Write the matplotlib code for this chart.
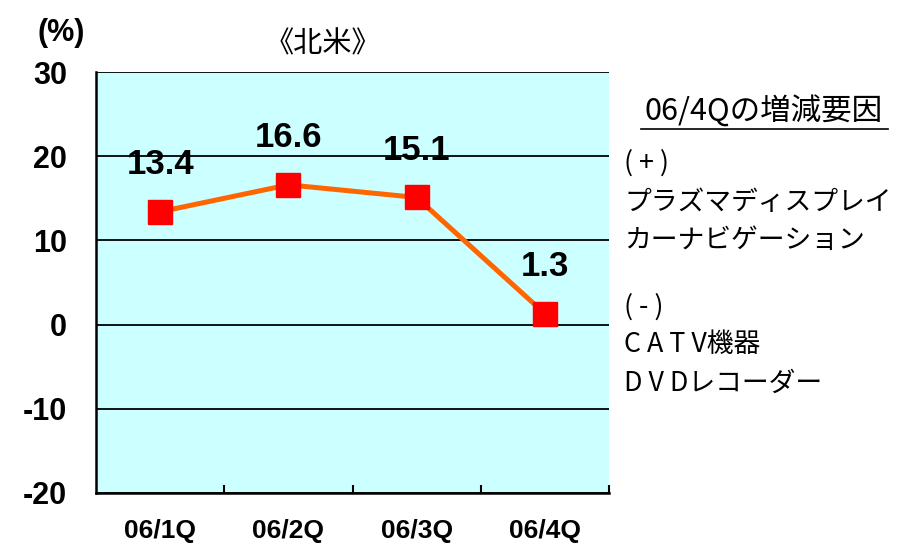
import matplotlib.pyplot as plt
from matplotlib.lines import Line2D

plt.rcParams['font.family'] = ['Liberation Sans', 'Noto Sans CJK JP', 'DejaVu Sans']

# Data
quarters = ['06/1Q', '06/2Q', '06/3Q', '06/4Q']
growth = [13.4, 16.6, 15.1, 1.3]
yticks = [-20, -10, 0, 10, 20, 30]
factors = ['( + )', 'プラズマディスプレイ', 'カーナビゲーション',
           '( - )', 'C A T V機器', 'D V Dレコーダー']

W, H = 899, 546
fig = plt.figure(figsize=(W / 100, H / 100), dpi=100)
ax = fig.add_axes([96 / W, 1 - 493 / H, 513 / W, 421 / H])
ax.set_facecolor('#ccffff')

x = list(range(len(quarters)))
ax.plot(x, growth, color='#ff6600', lw=3.6, marker='s', ms=17,
        mfc='#ff0000', mec='#ff0000', zorder=3)
for xi, v in zip(x, growth):
    ax.annotate(f'{v}', (xi, v), xytext=(0, 34), textcoords='offset points',
                ha='center', va='center', fontsize=25, fontweight='bold')

ax.set_xlim(-0.5, 3.5)
ax.set_ylim(-20, 30)
ax.set_yticks(yticks)
ax.set_yticklabels([str(t) for t in yticks], fontsize=22, fontweight='bold')
ax.yaxis.grid(True, color='black', lw=1.3)
ax.set_axisbelow(True)
ax.tick_params(axis='y', length=0, pad=21)

ax.set_xticks(x)
ax.set_xticklabels(quarters, fontsize=19, fontweight='bold')
ax.set_xticks([0.5, 1.5, 2.5, 3.5], minor=True)
ax.tick_params(axis='x', which='major', length=0, pad=19)
ax.tick_params(axis='x', which='minor', direction='in', length=6, width=1.5)

for s in ['top', 'right']:
    ax.spines[s].set_visible(False)
for s in ['left', 'bottom']:
    ax.spines[s].set_linewidth(1.8)

fig.text(61 / W, 1 - 33 / H, '(%)', fontsize=22, fontweight='bold', ha='center', va='center')
fig.text(323 / W, 1 - 44 / H, '《北米》', fontsize=21, ha='center', va='center',
         family=['Noto Sans CJK JP', 'DejaVu Sans'])

# right side notes
fig.text(764 / W, 1 - 112 / H, '06/4Qの増減要因', fontsize=22, ha='center', va='center',
         family=['Noto Sans CJK JP', 'DejaVu Sans'])
fig.add_artist(Line2D([641 / W, 888 / W], [1 - 129 / H, 1 - 129 / H], color='black', lw=1.2))
line_y = [163, 202, 240, 307, 345, 383]
for t, yp in zip(factors, line_y):
    fig.text(624 / W, 1 - yp / H, t, fontsize=19.3, ha='left', va='center',
             family=['Noto Sans CJK JP', 'DejaVu Sans'])

fig.savefig('out.png', dpi=100)
